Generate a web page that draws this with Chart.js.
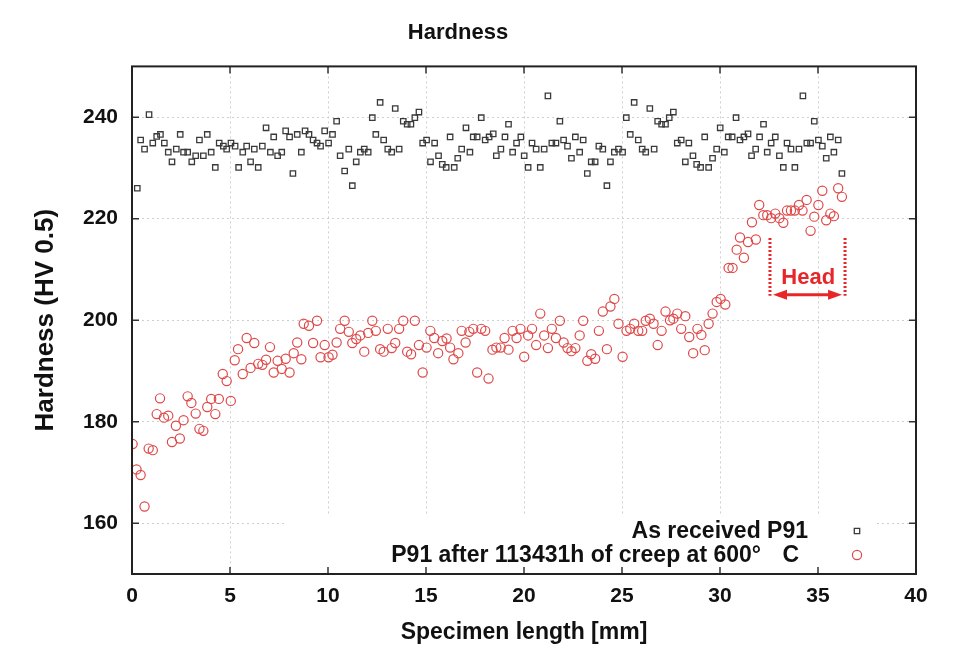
<!DOCTYPE html>
<html>
<head>
<meta charset="utf-8">
<title>Hardness</title>
<script src="https://cdn.jsdelivr.net/npm/chart.js@4.4.1/dist/chart.umd.min.js"></script>
<style>
  html, body { margin: 0; padding: 0; background: #fff; }
</style>
</head>
<body>
<canvas id="hardness" width="971" height="648"></canvas>
<script>
// As received P91 (black squares)
const receivedX = [
  0.27, 0.44, 0.64, 0.87, 1.06, 1.26, 1.45, 1.65, 1.85, 2.04, 2.26, 2.46, 2.63, 2.84, 3.05, 3.25, 3.44, 3.64, 3.84, 4.04,
  4.25, 4.45, 4.66, 4.83, 5.05, 5.26, 5.44, 5.65, 5.85, 6.05, 6.24, 6.44, 6.65, 6.84, 7.06, 7.23, 7.43, 7.64, 7.84, 8.04,
  8.21, 8.43, 8.64, 8.83, 9.03, 9.24, 9.44, 9.62, 9.83, 10.03, 10.23, 10.44, 10.62, 10.85, 11.06, 11.24, 11.44, 11.65, 11.85, 12.05,
  12.26, 12.44, 12.66, 12.84, 13.05, 13.25, 13.43, 13.63, 13.84, 14.04, 14.23, 14.43, 14.64, 14.83, 15.03, 15.23, 15.44, 15.64, 15.83, 16.03,
  16.23, 16.44, 16.62, 16.82, 17.04, 17.24, 17.41, 17.61, 17.82, 18.02, 18.22, 18.43, 18.59, 18.82, 19.03, 19.21, 19.42, 19.62, 19.84, 20.01,
  20.21, 20.41, 20.62, 20.83, 21.03, 21.22, 21.42, 21.63, 21.83, 22.02, 22.22, 22.42, 22.62, 22.84, 23.02, 23.23, 23.43, 23.63, 23.82, 24.02,
  24.23, 24.41, 24.61, 24.82, 25.03, 25.22, 25.42, 25.62, 25.83, 26.03, 26.21, 26.42, 26.64, 26.82, 27.02, 27.22, 27.41, 27.62, 27.82, 28.02,
  28.23, 28.41, 28.62, 28.81, 29.01, 29.22, 29.42, 29.62, 29.83, 30.01, 30.22, 30.42, 30.62, 30.82, 31.02, 31.22, 31.43, 31.61, 31.82, 32.02,
  32.22, 32.41, 32.61, 32.82, 33.03, 33.23, 33.42, 33.62, 33.82, 34.03, 34.23, 34.43, 34.62, 34.81, 35.02, 35.22, 35.42, 35.63, 35.81, 36.03,
  36.22
];
const receivedY = [
  226.0, 235.5, 233.7, 240.5, 234.9, 236.2, 236.6, 234.9, 233.1, 231.2, 233.7, 236.6, 233.1, 233.1, 231.2, 232.4, 235.5, 232.4, 236.6, 233.1,
  230.1, 234.9, 234.3, 233.7, 234.9, 234.3, 230.1, 233.1, 234.3, 231.2, 233.7, 230.1, 234.3, 237.9, 233.1, 236.1, 232.4, 233.1, 237.3, 236.1,
  228.9, 236.6, 233.1, 237.3, 236.6, 235.5, 234.9, 234.3, 237.3, 234.9, 236.6, 239.2, 232.4, 229.4, 233.7, 226.5, 231.2, 233.1, 233.7, 233.1,
  239.9, 236.6, 242.9, 235.5, 233.7, 233.1, 241.7, 233.7, 239.2, 238.6, 238.6, 239.9, 241.0, 234.9, 235.5, 231.2, 234.9, 232.4, 230.7, 230.1,
  236.1, 230.1, 231.9, 233.7, 237.9, 233.1, 236.1, 236.1, 239.9, 235.5, 236.1, 236.7, 232.4, 233.7, 236.1, 238.6, 233.1, 234.9, 236.1, 232.4,
  230.1, 234.9, 233.7, 230.1, 233.7, 244.2, 234.9, 234.9, 239.2, 235.5, 234.3, 231.9, 236.1, 233.1, 235.5, 228.9, 231.2, 231.2, 234.3, 233.7,
  226.5, 231.2, 233.1, 233.7, 233.1, 239.9, 236.6, 242.9, 235.5, 233.7, 233.1, 241.7, 233.7, 239.2, 238.6, 238.6, 239.9, 241.0, 234.9, 235.5,
  231.2, 234.9, 232.4, 230.7, 230.1, 236.1, 230.1, 231.9, 233.7, 237.9, 233.1, 236.1, 236.1, 239.9, 235.5, 236.1, 236.7, 232.4, 233.7, 236.1,
  238.6, 233.1, 234.9, 236.1, 232.4, 230.1, 234.9, 233.7, 230.1, 233.7, 244.2, 234.9, 234.9, 239.2, 235.5, 234.3, 231.9, 236.1, 233.1, 235.5,
  228.9
];

// P91 after creep (red circles)
const creepX = [
  0.03, 0.23, 0.44, 0.64, 0.85, 1.06, 1.26, 1.43, 1.63, 1.85, 2.04, 2.24, 2.44, 2.63, 2.84, 3.03, 3.25, 3.44, 3.64, 3.84,
  4.04, 4.25, 4.43, 4.63, 4.83, 5.04, 5.24, 5.41, 5.65, 5.85, 6.05, 6.24, 6.44, 6.65, 6.84, 7.04, 7.23, 7.43, 7.64, 7.84,
  8.04, 8.25, 8.43, 8.64, 8.76, 9.03, 9.24, 9.44, 9.62, 9.83, 10.03, 10.23, 10.44, 10.62, 10.85, 11.06, 11.24, 11.44, 11.65, 11.85,
  12.05, 12.26, 12.44, 12.66, 12.84, 13.05, 13.25, 13.43, 13.63, 13.84, 14.04, 14.24, 14.43, 14.64, 14.83, 15.03, 15.22, 15.42, 15.62, 15.83,
  16.05, 16.23, 16.40, 16.65, 16.82, 17.02, 17.21, 17.41, 17.61, 17.82, 18.02, 18.19, 18.39, 18.59, 18.81, 19.01, 19.21, 19.42, 19.62, 19.82,
  20.01, 20.21, 20.41, 20.62, 20.83, 21.03, 21.22, 21.42, 21.63, 21.83, 22.02, 22.22, 22.42, 22.62, 22.84, 23.02, 23.23, 23.43, 23.63, 23.82,
  24.02, 24.23, 24.41, 24.61, 24.82, 25.03, 25.23, 25.42, 25.62, 25.83, 26.03, 26.21, 26.42, 26.61, 26.82, 27.02, 27.22, 27.45, 27.62, 27.82,
  28.02, 28.23, 28.43, 28.63, 28.85, 29.05, 29.22, 29.42, 29.62, 29.83, 30.03, 30.27, 30.44, 30.64, 30.85, 31.02, 31.22, 31.43, 31.63, 31.83,
  32.00, 32.21, 32.41, 32.61, 32.82, 33.03, 33.23, 33.42, 33.62, 33.82, 34.03, 34.21, 34.42, 34.62, 34.81, 35.02, 35.22, 35.42, 35.63, 35.81,
  36.03, 36.22
];
const creepY = [
  175.6, 170.6, 169.5, 163.3, 174.7, 174.4, 181.5, 184.6, 180.8, 181.2, 176.0, 179.2, 176.7, 180.3, 185.0, 183.7, 181.6, 178.6, 178.2, 182.9,
  184.5, 181.5, 184.5, 189.4, 188.0, 184.1, 192.1, 194.3, 189.4, 196.5, 190.6, 195.5, 191.4, 191.2, 192.2, 194.7, 189.7, 192.0, 190.4, 192.4,
  189.7, 193.5, 195.6, 192.3, 199.3, 198.9, 195.5, 199.9, 192.7, 195.1, 192.7, 193.2, 195.6, 198.3, 199.9, 197.7, 195.5, 196.3, 197.0, 193.8,
  197.5, 199.9, 197.9, 194.3, 193.8, 198.3, 194.5, 195.5, 198.3, 199.9, 193.8, 193.3, 199.9, 195.1, 189.7, 194.6, 197.9, 196.5, 193.5, 195.9,
  196.4, 194.6, 192.3, 193.5, 197.9, 195.6, 197.7, 198.3, 189.7, 198.3, 197.9, 188.5, 194.2, 194.6, 194.6, 196.5, 194.2, 197.9, 196.5, 198.3,
  192.8, 197.0, 198.3, 195.1, 201.3, 197.0, 194.5, 198.3, 196.5, 199.9, 195.6, 194.5, 193.9, 194.5, 197.0, 199.9, 192.0, 193.3, 192.4, 197.9,
  201.7, 194.3, 202.7, 204.2, 199.3, 192.8, 197.9, 198.3, 199.3, 197.9, 197.9, 199.9, 200.3, 199.3, 195.1, 197.9, 201.7, 200.0, 200.3, 201.3,
  198.3, 200.8, 196.7, 193.5, 198.3, 197.1, 194.1, 199.3, 201.3, 203.6, 204.2, 203.1, 210.3, 210.3, 213.9, 216.3, 212.3, 215.4, 219.3, 215.9,
  222.7, 220.7, 220.7, 220.1, 221.0, 220.1, 219.2, 221.6, 221.6, 221.6, 222.7, 221.6, 223.7, 217.6, 220.4, 222.7, 225.5, 219.7, 221.0, 220.5,
  226.0, 224.3
];

const xTicks = [0, 5, 10, 15, 20, 25, 30, 35, 40];
const yTicks = [160, 180, 200, 220, 240];
const seriesLabels = ['As received P91', 'P91 after 113431h of creep at 600°'];

const FONT = "'Liberation Sans', Arial, Helvetica, sans-serif";
const RED = '#e04848';
Chart.defaults.font.family = FONT;
Chart.defaults.color = '#111';

// gnuplot style: framed box, inward ticks, key in the lower right, "Head" marker
const gnuplotLook = {
  id: 'gnuplotLook',
  beforeDatasetsDraw(chart) {
    const ctx = chart.ctx;
    // key box hides the grid behind it
    ctx.save();
    ctx.fillStyle = '#fff';
    ctx.fillRect(285, 515, 590, chart.chartArea.bottom - 515);
    ctx.restore();
  },
  afterDatasetsDraw(chart) {
    const ctx = chart.ctx;
    const a = chart.chartArea;
    const xs = chart.scales.x, ys = chart.scales.y;
    ctx.save();

    // inward tick marks on all four sides
    ctx.strokeStyle = '#333';
    ctx.lineWidth = 1.5;
    ctx.beginPath();
    xTicks.forEach(v => {
      const px = xs.getPixelForValue(v);
      ctx.moveTo(px, a.bottom); ctx.lineTo(px, a.bottom - 7);
      ctx.moveTo(px, a.top); ctx.lineTo(px, a.top + 7);
    });
    yTicks.forEach(v => {
      const py = ys.getPixelForValue(v);
      ctx.moveTo(a.left, py); ctx.lineTo(a.left + 7, py);
      ctx.moveTo(a.right, py); ctx.lineTo(a.right - 7, py);
    });
    ctx.stroke();

    // frame
    ctx.strokeStyle = '#222';
    ctx.lineWidth = 2;
    ctx.strokeRect(a.left, a.top, a.right - a.left, a.bottom - a.top);

    // key
    ctx.fillStyle = '#111';
    ctx.font = 'bold 23px ' + FONT;
    ctx.textAlign = 'right';
    ctx.textBaseline = 'middle';
    ctx.fillText(seriesLabels[0], 808, 532);
    ctx.fillText(seriesLabels[1], 761, 556);
    ctx.fillText('C', 799, 556);
    chart.data.datasets.forEach((ds, i) => {
      ctx.strokeStyle = ds.borderColor;
      ctx.fillStyle = 'rgba(0,0,0,0)';
      ctx.lineWidth = ds.borderWidth;
      Chart.helpers.drawPoint(ctx, { pointStyle: ds.pointStyle, radius: ds.pointRadius, rotation: 0, borderWidth: ds.borderWidth }, 857, i === 0 ? 531 : 555);
    });

    // "Head" region marker
    const hx1 = xs.getPixelForValue(32.55), hx2 = xs.getPixelForValue(36.38);
    const hTop = ys.getPixelForValue(216.2), hBot = ys.getPixelForValue(204.8);
    const hArrow = ys.getPixelForValue(205.0);
    ctx.strokeStyle = '#e8262a';
    ctx.fillStyle = '#e8262a';
    ctx.lineWidth = 3;
    ctx.setLineDash([2, 2]);
    ctx.beginPath();
    ctx.moveTo(hx1, hTop); ctx.lineTo(hx1, hBot);
    ctx.moveTo(hx2, hTop); ctx.lineTo(hx2, hBot);
    ctx.stroke();
    ctx.setLineDash([]);
    ctx.beginPath();
    ctx.moveTo(hx1 + 10, hArrow); ctx.lineTo(hx2 - 10, hArrow);
    ctx.stroke();
    [[hx1 + 3, 1], [hx2 - 3, -1]].forEach(([tip, dir]) => {
      ctx.beginPath();
      ctx.moveTo(tip, hArrow);
      ctx.lineTo(tip + dir * 14, hArrow - 5);
      ctx.lineTo(tip + dir * 14, hArrow + 5);
      ctx.closePath();
      ctx.fill();
    });
    ctx.font = 'bold 22px ' + FONT;
    ctx.textAlign = 'center';
    ctx.fillText('Head', xs.getPixelForValue(34.5), ys.getPixelForValue(208.3));

    ctx.restore();
  }
};

const toPoints = (xv, yv) => xv.map((x, i) => ({ x: x, y: yv[i] }));

const ctx = document.getElementById('hardness').getContext('2d');
const chart = new Chart(ctx, {
  type: 'scatter',
  data: {
    datasets: [{
      label: seriesLabels[0],
      data: toPoints(receivedX, receivedY),
      pointStyle: 'rect',
      pointRadius: 3.8,
      pointHoverRadius: 3.8,
      borderWidth: 1.3,
      borderColor: '#3a3a3a',
      backgroundColor: 'rgba(255,255,255,0)'
    }, {
      label: seriesLabels[1],
      data: toPoints(creepX, creepY),
      pointStyle: 'circle',
      pointRadius: 4.6,
      pointHoverRadius: 4.6,
      borderWidth: 1.2,
      borderColor: RED,
      backgroundColor: 'rgba(255,255,255,0)'
    }]
  },
  options: {
    responsive: false,
    animation: false,
    layout: { padding: { left: 0, right: 55, top: 0, bottom: 0 } },
    plugins: {
      legend: { display: false },
      tooltip: { enabled: false },
      title: {
        display: true,
        text: 'Hardness',
        color: '#111',
        font: { size: 22, weight: 'bold' },
        padding: { top: 20, bottom: 20 }
      }
    },
    scales: {
      x: {
        type: 'linear',
        min: 0,
        max: 40,
        afterBuildTicks: s => { s.ticks = xTicks.map(v => ({ value: v })); },
        afterFit: s => { s.height = 74; },
        ticks: { font: { size: 21, weight: 'bold' }, color: '#111', padding: 10, maxRotation: 0 },
        grid: { color: '#cfcfcf', lineWidth: 1, drawTicks: false },
        border: { display: false, dash: [2, 3] },
        title: {
          display: true,
          text: 'Specimen length [mm]',
          color: '#111',
          font: { size: 23, weight: 'bold' },
          padding: { top: 0, bottom: 2 }
        }
      },
      y: {
        min: 150,
        max: 250,
        afterBuildTicks: s => { s.ticks = yTicks.map(v => ({ value: v })); },
        afterFit: s => { s.width = 132; },
        ticks: { font: { size: 21, weight: 'bold' }, color: '#111', padding: 14 },
        grid: { color: '#cfcfcf', lineWidth: 1, drawTicks: false },
        border: { display: false, dash: [2, 3] },
        title: {
          display: true,
          text: 'Hardness (HV 0.5)',
          color: '#111',
          font: { size: 26, weight: 'bold' },
          padding: { top: 30, bottom: 0 }
        }
      }
    }
  },
  plugins: [gnuplotLook]
});
</script>
</body>
</html>
